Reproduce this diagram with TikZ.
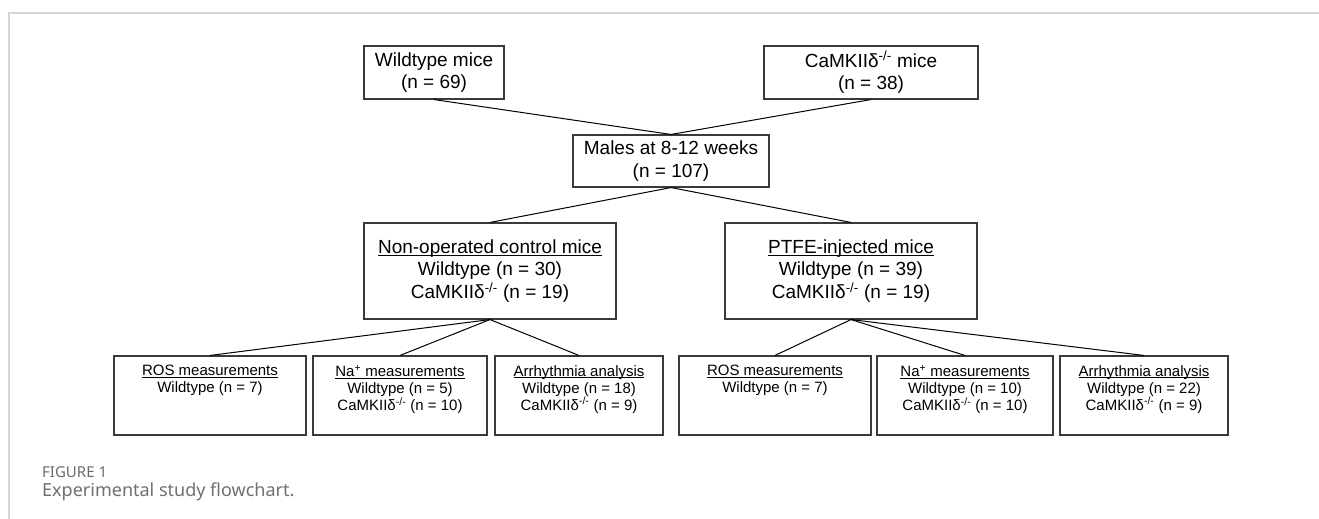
\documentclass[tikz,border=0pt]{standalone}
\usepackage{fontspec}
\setmainfont{Liberation Sans}
\newfontfamily\capfont{Noto Sans}
\definecolor{boxgray}{HTML}{3A3A3A}
\definecolor{framegray}{HTML}{D6D6D6}
\definecolor{capgray}{HTML}{707070}
\definecolor{figgray}{HTML}{6A6A6A}
\newcommand{\ko}{CaMKIIδ\textsuperscript{-/-}}
% underline set close to the baseline (depth dropped, height kept)
\newcommand{\ul}[1]{\underline{\raisebox{0pt}[\height][0pt]{#1}}}
\begin{document}
\begin{tikzpicture}[x=1pt,y=-1pt,
  box/.style={draw=boxgray, line width=1.1pt, inner sep=0pt, align=center,
              font=\fontsize{19}{22.5}\selectfont},
  smallbox/.style={draw=boxgray, line width=1.1pt, inner sep=0pt,
              minimum height=79pt},
  smalltext/.style={font=\fontsize{15}{17}\selectfont, align=center,
              inner sep=0pt, anchor=north},
  link/.style={draw=black, line width=1pt},
  captext/.style={anchor=west, inner sep=0pt, text=capgray}]

\useasboundingbox (0,0) rectangle (1319,519);

% page frame
\draw[framegray, line width=1.2pt] (9,519) -- (9,13) -- (1319,13);

% top row
\node[box, minimum width=140pt, minimum height=53pt] (wt) at (434,72.5)
  {Wildtype mice\\(n = 69)};
\node[box, minimum width=214pt, minimum height=53pt] (ko) at (871,72.5)
  {\ko{} mice\\(n = 38)};

% pooled cohort
\node[box, minimum width=196pt, minimum height=52pt] (males) at (671,161)
  {Males at 8-12 weeks\\(n = 107)};

% groups
\node[box, minimum width=252pt, minimum height=96pt] (ctrl) at (490,271)
  {\ul{Non-operated control mice}\\Wildtype (n = 30)\\\ko{} (n = 19)};
\node[box, minimum width=252pt, minimum height=96pt] (ptfe) at (851,271)
  {\ul{PTFE-injected mice}\\Wildtype (n = 39)\\\ko{} (n = 19)};

% analyses
\node[smallbox, minimum width=192pt] (ros1) at (210,395.5) {};
\node[smallbox, minimum width=174pt] (na1)  at (400,395.5) {};
\node[smallbox, minimum width=168pt] (arr1) at (579,395.5) {};
\node[smallbox, minimum width=192pt] (ros2) at (775,395.5) {};
\node[smallbox, minimum width=176pt] (na2)  at (965,395.5) {};
\node[smallbox, minimum width=168pt] (arr2) at (1144,395.5) {};

\node[smalltext] (ros1t) at ([yshift=-9.5pt]ros1.north)
  {\ul{ROS measurements}\\Wildtype (n = 7)};
\node[smalltext] (na1t) at ([yshift=-9.5pt]na1.north)
  {\ul{Na\textsuperscript{+} measurements}\\Wildtype (n = 5)\\\ko{} (n = 10)};
\node[smalltext] (arr1t) at ([yshift=-9.5pt]arr1.north)
  {\ul{Arrhythmia analysis}\\Wildtype (n = 18)\\\ko{} (n = 9)};
\node[smalltext] (ros2t) at ([yshift=-9.5pt]ros2.north)
  {\ul{ROS measurements}\\Wildtype (n = 7)};
\node[smalltext] (na2t) at ([yshift=-9.5pt]na2.north)
  {\ul{Na\textsuperscript{+} measurements}\\Wildtype (n = 10)\\\ko{} (n = 10)};
\node[smalltext] (arr2t) at ([yshift=-9.5pt]arr2.north)
  {\ul{Arrhythmia analysis}\\Wildtype (n = 22)\\\ko{} (n = 9)};

% connectors
\draw[link] (wt.south) -- (males.north);
\draw[link] (ko.south) -- (males.north);
\draw[link] (males.south) -- (ctrl.north);
\draw[link] (males.south) -- (ptfe.north);
\foreach \t in {ros1,na1,arr1} \draw[link] (ctrl.south) -- (\t.north);
\foreach \t in {ros2,na2,arr2} \draw[link] (ptfe.south) -- (\t.north);

% caption
\node[captext, text=figgray, font=\capfont\fontsize{15}{17}\selectfont] (fig) at (42,472) {FIGURE 1};
\node[captext, font=\capfont\fontsize{18}{20}\selectfont] (cap) at (42,492)
  {Experimental study flowchart.};
\end{tikzpicture}
\end{document}
